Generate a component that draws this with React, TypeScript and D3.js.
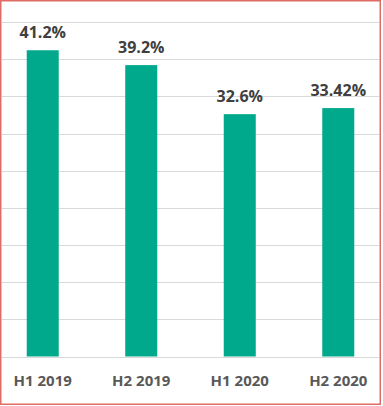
import React from "react";
import * as d3 from "d3";

const categories = ["H1 2019", "H2 2019", "H1 2020", "H2 2020"];
const values = [41.2, 39.2, 32.6, 33.42];
const valueLabels = ["41.2%", "39.2%", "32.6%", "33.42%"];
const yTicks = [0, 5, 10, 15, 20, 25, 30, 35, 40, 45];

export default function App() {
  const W = 383;
  const H = 406;
  const left = 2;
  const right = 379;
  const bottom = 356.5;
  const top = 22;

  const x = d3
    .scaleBand<string>()
    .domain(categories)
    .range([left, right])
    .paddingInner(0.675)
    .paddingOuter(0.251);
  const y = d3.scaleLinear().domain([0, 45]).range([bottom, top]);

  const font = "'Open Sans', 'Liberation Sans', sans-serif";

  return (
    <div style={{ position: "fixed", left: 0, top: 0, width: W, height: H, background: "#fff" }}>
      <svg width={W} height={H} style={{ display: "block" }}>
        <rect x={0} y={0} width={W} height={H} fill="#fff" />
        {yTicks.map((t) => (
          <line
            key={t}
            x1={left}
            x2={right}
            y1={Math.round(y(t)) + 0.5}
            y2={Math.round(y(t)) + 0.5}
            stroke="#d9d9d9"
            strokeWidth={1}
          />
        ))}
        {categories.map((c, i) => (
          <rect
            key={c}
            x={x(c)}
            y={y(values[i])}
            width={x.bandwidth()}
            height={bottom - y(values[i])}
            fill="#00A98C"
          />
        ))}
        {categories.map((c, i) => (
          <text
            key={"v" + c}
            x={(x(c) as number) + x.bandwidth() / 2}
            y={y(values[i]) - 12}
            textAnchor="middle"
            fontFamily={font}
            fontWeight={700}
            fontSize={16}
            fill="#404040"
          >
            {valueLabels[i]}
          </text>
        ))}
        {categories.map((c) => (
          <text
            key={"c" + c}
            x={(x(c) as number) + x.bandwidth() / 2}
            y={386}
            textAnchor="middle"
            fontFamily={font}
            fontWeight={700}
            fontSize={15}
            fill="#595959"
          >
            {c}
          </text>
        ))}
        <rect x={0.75} y={0.75} width={379.5} height={403.5} fill="none" stroke="#E06C66" strokeWidth={1.5} />
      </svg>
    </div>
  );
}
